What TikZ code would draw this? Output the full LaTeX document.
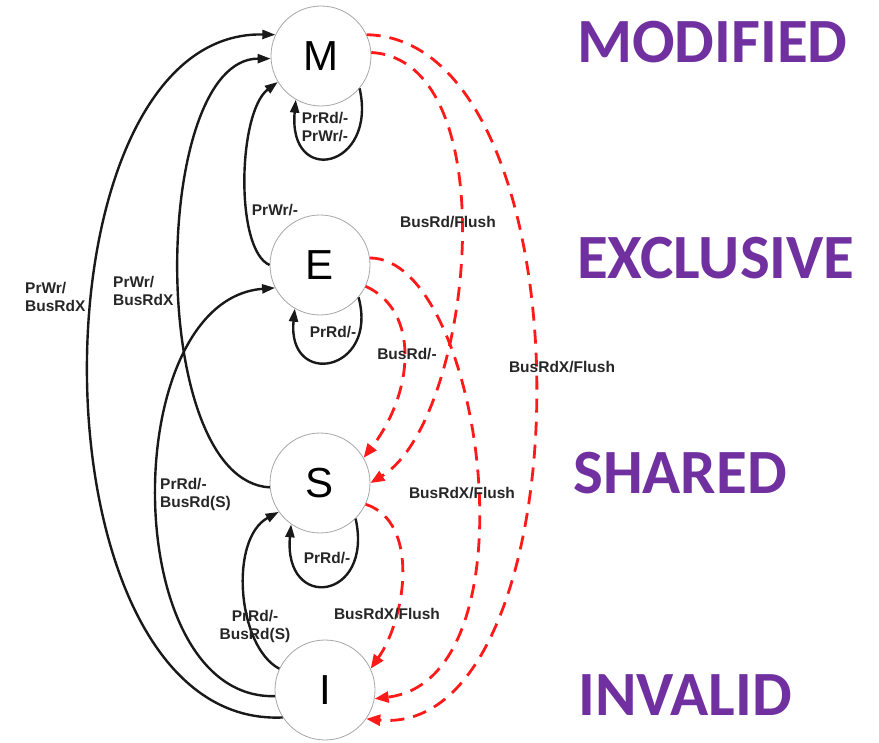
\documentclass[tikz,border=0pt]{standalone}
\usepackage{fontspec}
\setmainfont{Liberation Sans}
\newfontfamily\calibfont{Carlito}
\usetikzlibrary{arrows.meta}
\definecolor{mesipurple}{HTML}{7030A0}
\definecolor{snoopred}{HTML}{FF1A1A}
\tikzset{
	state/.style={circle, draw=gray!70, line width=0.8pt, minimum size=100pt, inner sep=0pt, font=\fontsize{42}{42}\selectfont},
	proc/.style={draw=black!90, line width=2.4pt, -{Triangle[length=13pt,width=9pt]}},
	snoop/.style={draw=snoopred, line width=2.8pt, dash pattern=on 14pt off 9pt, -{Triangle[length=14pt,width=11pt]}},
	lbl/.style={font=\fontsize{15.5}{18}\selectfont\bfseries, text=black!85, inner sep=0pt, align=center},
	mesi/.style={font=\calibfont\fontsize{63}{63}\selectfont\bfseries, text=mesipurple, anchor=west, inner sep=0pt}
}
\begin{document}
\begin{tikzpicture}[x=1pt,y=-1pt]
		\useasboundingbox (0,0) rectangle (879,743);

		% the four states
		\node[state] (M) at (321,56) {M};
		\node[state] (E) at (320,265) {E};
		\node[state] (S) at (320,483) {S};
		\node[state] (I) at (325,690) {I};

		\node[mesi] (modified) at (577,42) {MODIFIED};
		\node[mesi] (exclusive) at (577,258) {EXCLUSIVE};
		\node[mesi] (shared) at (573,473) {SHARED};
		\node[mesi] (invalid) at (578,695) {INVALID};

		% processor side transitions
		\draw[proc] (I.213) .. controls +(-258,12) and +(-250,-5) .. (M.155);
		\draw[proc] (S.185) .. controls +(-124,-7) and +(-120,0) .. (M.183);
		\draw[proc] (E.180) .. controls +(-35,-15) and +(-40,30) .. (M.211);
		\draw[proc] (I.187) .. controls +(-158,4) and +(-158,12) .. (E.207);
		\draw[proc] (I.155) .. controls +(-42,-22) and +(-50,27) .. (S.215);

		\draw[proc] (M.-40) .. controls +(18,80) and +(-8,88) .. (M.-120);
		\draw[proc] (E.-40) .. controls +(20,75) and +(-8,80) .. (E.-120);
		\draw[proc] (S.-45) .. controls +(18,82) and +(-8,88) .. (S.-125);

		% bus side transitions
		\draw[snoop] (M.25) .. controls +(228,5) and +(222,20) .. (I.-35);
		\draw[snoop] (M.4) .. controls +(138,8) and +(102,-62) .. (S.0);
		\draw[snoop] (E.-25) .. controls +(55,25) and +(50,-65) .. (S.30);
		\draw[snoop] (E.8) .. controls +(112,0) and +(165,-20) .. (I.-10);
		\draw[snoop] (S.-25) .. controls +(55,18) and +(35,-50) .. (I.25);

		% labels
		\node[lbl] (lM) at (325,127) {PrRd/-\\PrWr/-};
		\node[lbl] (lE) at (333,332) {PrRd/-};
		\node[lbl] (lS) at (327,558) {PrRd/-};
		\node[lbl] (lEM) at (275,210) {PrWr/-};
		\node[lbl, anchor=west, align=left] (lIM) at (25,297) {PrWr/\\BusRdX};
		\node[lbl, anchor=west, align=left] (lSM) at (113,291) {PrWr/\\BusRdX};
		\node[lbl, anchor=west, align=left] (lIE) at (160,494) {PrRd/-\\BusRd(S)};
		\node[lbl] (lIS) at (255,626) {PrRd/-\\BusRd(S)};

		\node[lbl] (lMS) at (448,222) {BusRd/Flush};
		\node[lbl] (lES) at (407,354) {BusRd/-};
		\node[lbl] (lMI) at (562,367) {BusRdX/Flush};
		\node[lbl] (lEI) at (462,493) {BusRdX/Flush};
		\node[lbl] (lSI) at (387,614) {BusRdX/Flush};
	\end{tikzpicture}
\end{document}
